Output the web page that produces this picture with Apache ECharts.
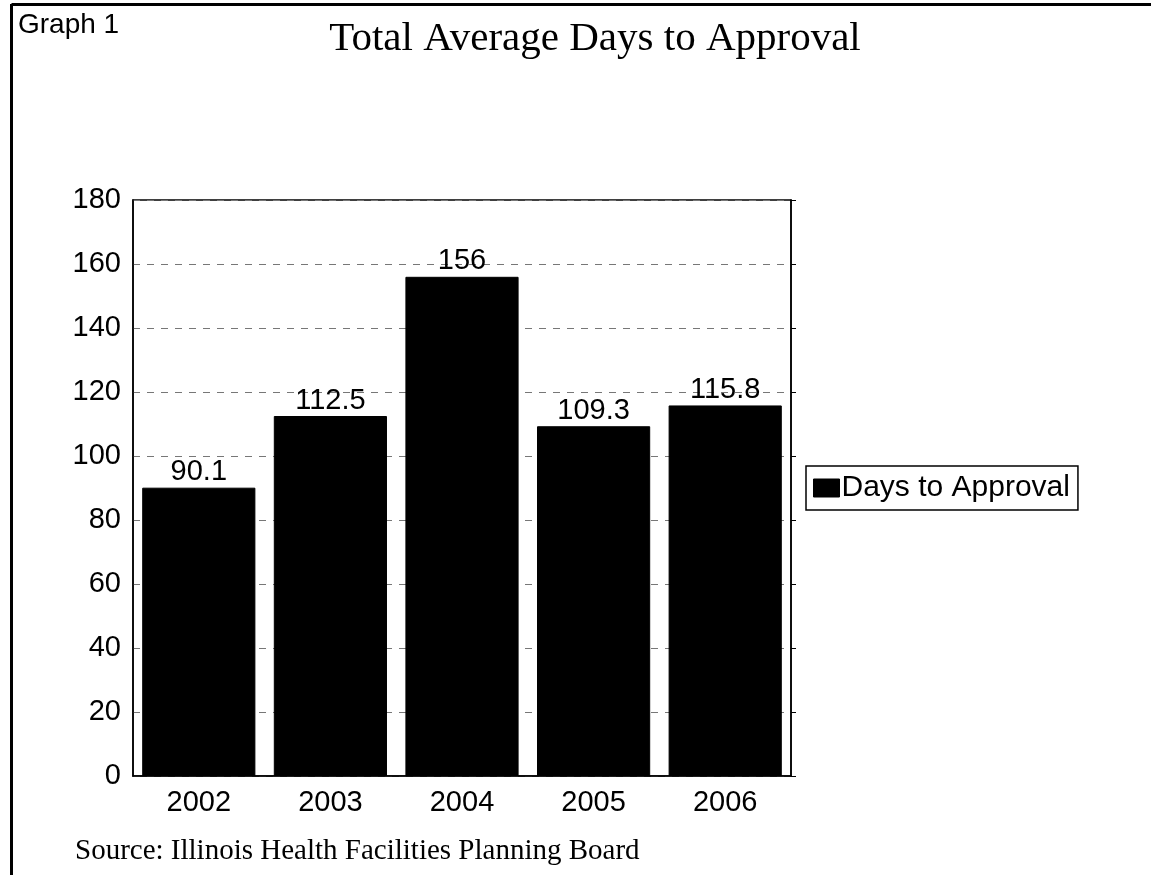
<!DOCTYPE html>
<html><head><meta charset="utf-8">
<script src="https://cdn.jsdelivr.net/npm/echarts@6/dist/echarts.min.js"></script>
<style>html,body{margin:0;padding:0;background:#fff}#c{width:1151px;height:875px}</style>
</head><body><div id="c"></div>
<script>
const categories = ['2002','2003','2004','2005','2006'];
const daysToApproval = [90.1, 112.5, 156, 109.3, 115.8];
const seriesName = 'Days to Approval';
const yMin = 0, yMax = 180, yStep = 20;

const chart = echarts.init(document.getElementById('c'));
const sans = 'Liberation Sans, Arial, sans-serif';
const serif = 'Liberation Serif, Times New Roman, serif';
chart.setOption({
  animation: false,
  backgroundColor: '#fff',
  title: {
    text: 'Total Average Days to Approval',
    left: 590, top: 14, textAlign: 'center',
    textStyle: {fontFamily: serif, fontSize: 41, fontWeight: 'normal', color: '#000'}
  },
  legend: {
    data: [seriesName],
    orient: 'vertical',
    left: 806, top: 466,
    padding: [7, 8, 7, 7],
    borderColor: '#000', borderWidth: 1.5, borderRadius: 0,
    itemWidth: 26, itemHeight: 18, itemGap: 0,
    icon: 'rect',
    itemStyle: {borderColor: '#000', borderWidth: 1},
    textStyle: {fontFamily: sans, fontSize: 30, color: '#000', padding: [0,0,0,-3]}
  },
  grid: {left: 133, top: 200, width: 658, height: 576, containLabel: false, show: true, borderColor: '#000', borderWidth: 1.5},
  xAxis: {
    type: 'category', data: categories,
    axisLine: {lineStyle: {color: '#000', width: 1.5}},
    axisTick: {show: false},
    axisLabel: {fontFamily: sans, fontSize: 29, color: '#000', margin: 12}
  },
  yAxis: [{
    type: 'value', min: yMin, max: yMax, interval: yStep,
    axisLine: {show: true, lineStyle: {color: '#000', width: 1.5}},
    axisTick: {show: false},
    axisLabel: {fontFamily: sans, fontSize: 29, color: '#000', margin: 12},
    splitLine: {show: true, lineStyle: {color: '#777', type: [7, 7], width: 1}}
  }, {
    type: 'value', min: yMin, max: yMax, interval: yStep, position: 'right',
    axisLine: {show: true, lineStyle: {color: '#000', width: 1.5}},
    axisTick: {show: true, inside: false, length: 5, lineStyle: {color: '#000'}},
    axisLabel: {show: false}, splitLine: {show: false}
  }],
  series: [{
    name: seriesName, type: 'bar', data: daysToApproval,
    barWidth: '86%',
    itemStyle: {color: '#000', borderColor: '#000', borderWidth: 1},
    label: {show: true, position: 'top', distance: 1, fontFamily: sans, fontSize: 29, color: '#000'}
  }],
  graphic: [
    {type: 'line', shape: {x1: 11.5, y1: 4.5, x2: 1151, y2: 4.5}, style: {stroke: '#000', lineWidth: 3}},
    {type: 'line', shape: {x1: 11.5, y1: 4, x2: 11.5, y2: 875}, style: {stroke: '#000', lineWidth: 3}},
    {type: 'text', left: 18, top: 11, style: {text: 'Graph 1', font: '28px ' + sans, fill: '#000'}},
    {type: 'text', left: 75, top: 837, style: {text: 'Source: Illinois Health Facilities Planning Board', font: '29px ' + serif, fill: '#000'}}
  ]
});
</script></body></html>
